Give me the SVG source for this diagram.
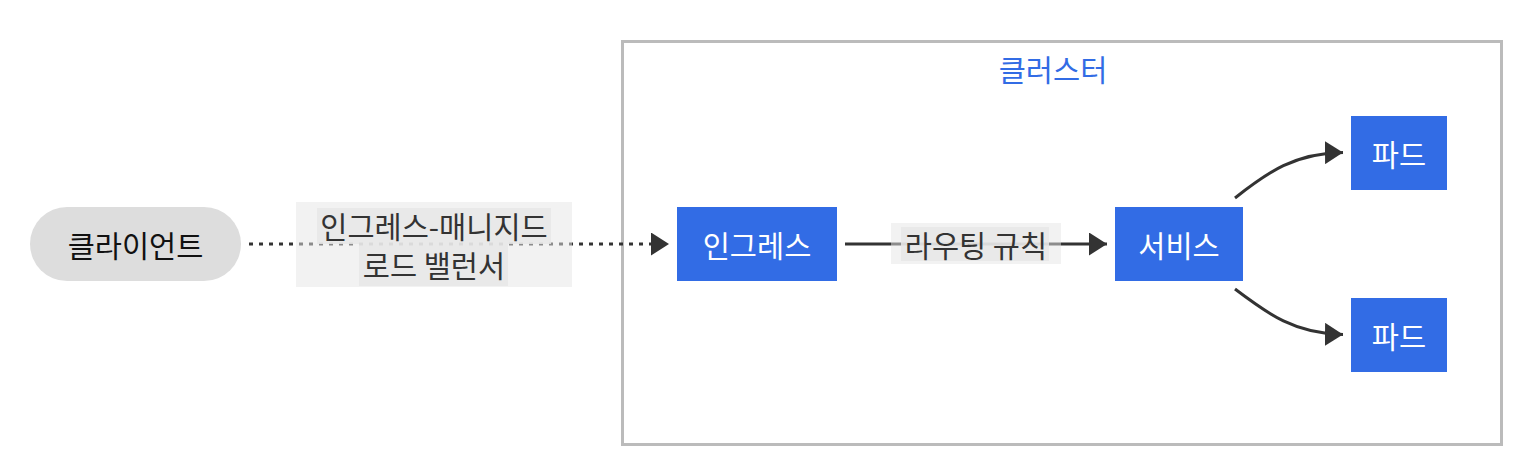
<svg xmlns="http://www.w3.org/2000/svg" width="1530" height="472" viewBox="0 0 1530 472">
<defs>
<style>
text{font-family:"Noto Sans CJK KR","Noto Sans",sans-serif;font-size:29.5px;text-anchor:middle;dominant-baseline:central}
.k8s{fill:#326ce5}
.wt{fill:#fff}
.bt{fill:#111}
.lt{fill:#333}
.edge{fill:none;stroke:#333;stroke-width:3}
.lbg{fill:#e5e5e5;fill-opacity:0.5}
.tbg{fill:#e8e8e8;fill-opacity:0.85}
</style>
<marker id="arr" viewBox="0 0 18 23" refX="18" refY="11.5" markerWidth="18" markerHeight="23" markerUnits="userSpaceOnUse" orient="auto">
<path d="M0,0 L18,11.5 L0,23 Z" fill="#333"/>
</marker>
</defs>
<rect width="1530" height="472" fill="#fff"/>
<g id="cluster">
<rect x="622.5" y="41.5" width="879" height="403" fill="#fff" stroke="#bbb" stroke-width="3"/>
<text x="1053" y="68" fill="#326ce5">클러스터</text>
</g>
<g id="connectors">
<path class="edge" d="M249,244 L669,244" stroke-dasharray="4 6" marker-end="url(#arr)"/>
<rect class="lbg" x="296" y="202" width="276" height="85"/>
<rect class="tbg" x="317" y="208" width="234" height="36"/>
<rect class="tbg" x="359" y="244" width="149" height="42"/>
<text class="lt" x="434" y="225">인그레스-매니지드</text>
<text class="lt" x="434" y="264">로드 밸런서</text>
<path class="edge" d="M845,244 L1107,244" marker-end="url(#arr)"/>
<rect class="lbg" x="891" y="223" width="170" height="41"/>
<rect class="tbg" x="901" y="227" width="148" height="34"/>
<text class="lt" x="976" y="244">라우팅 규칙</text>
<path class="edge" d="M1235,198 C1268,172 1295,153 1343,152.5" marker-end="url(#arr)"/>
<path class="edge" d="M1235,289 C1268,314 1295,334 1343,334.5" marker-end="url(#arr)"/>
</g>
<g id="client">
<rect x="30" y="207" width="211" height="74" rx="37" fill="#ddd"/>
<text class="bt" x="135.5" y="244">클라이언트</text>
</g>
<g id="ingress">
<rect class="k8s" x="677" y="207" width="160" height="74"/>
<text class="wt" x="757" y="244">인그레스</text>
</g>
<g id="service">
<rect class="k8s" x="1115" y="207" width="128" height="74"/>
<text class="wt" x="1179" y="244">서비스</text>
</g>
<g id="pod1">
<rect class="k8s" x="1351" y="116" width="96" height="74"/>
<text class="wt" x="1399" y="153">파드</text>
</g>
<g id="pod2">
<rect class="k8s" x="1351" y="298" width="96" height="74"/>
<text class="wt" x="1399" y="335">파드</text>
</g>
</svg>
